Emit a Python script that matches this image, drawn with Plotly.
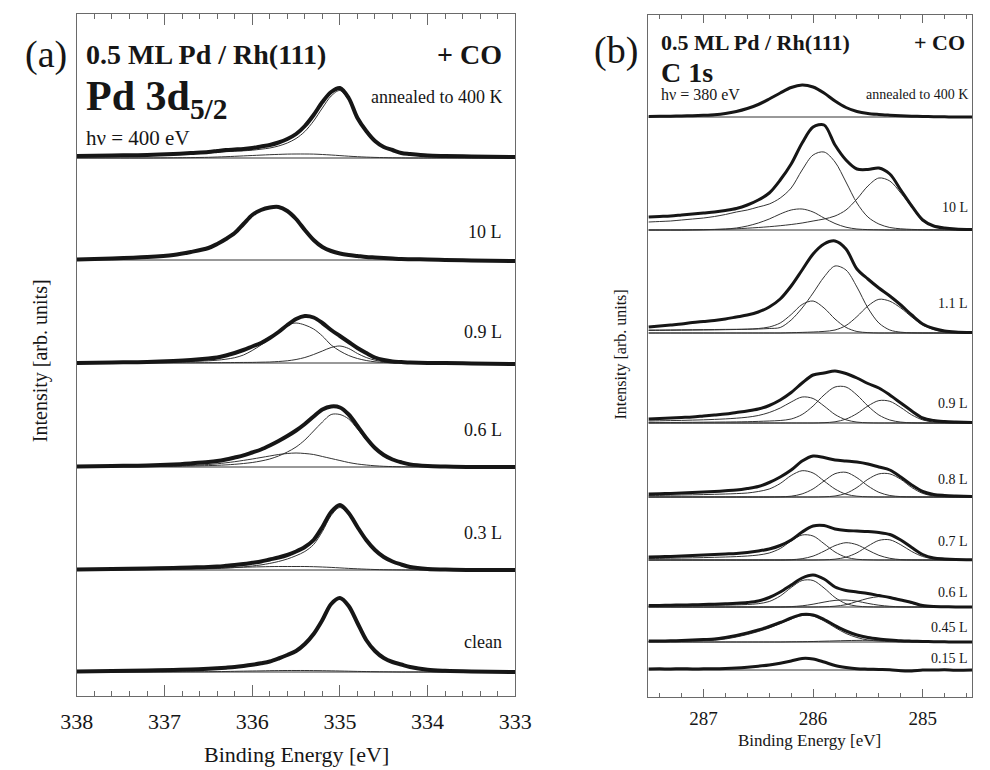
import plotly.graph_objects as go

# ---------------- Panel (a): Pd 3d5/2 ----------------
E_A = [338.0, 337.6, 337.2, 336.9, 336.7, 336.5, 336.4, 336.3, 336.2, 336.1,
       336.0, 335.9, 335.8, 335.7, 335.6, 335.5, 335.4, 335.3, 335.2, 335.1,
       335.0, 334.9, 334.8, 334.7, 334.6, 334.5, 334.4, 334.3, 334.2, 334.0,
       333.8, 333.5, 333.0]
A_LABELS = ["annealed to 400 K", "10 L", "0.9 L", "0.6 L", "0.3 L", "clean"]

A_ANN_DATA = [2, 2.5, 3, 4, 5, 6, 7, 8, 8.5, 9, 10, 11.5, 13, 15.5, 19, 24, 32, 43, 56, 66,
              70, 60, 40, 27, 17, 11, 8, 5, 4, 2.5, 2, 1.5, 1]
A_ANN_MAIN = [2, 2.5, 3, 3.8, 4.6, 5.3, 5.8, 6.3, 6.8, 7.2, 7.8, 8.8, 10, 12, 15, 19.5, 26.5, 37, 50, 62,
              67.5, 58, 38.7, 26, 16.4, 10.6, 7.8, 4.9, 4, 2.5, 2, 1.5, 1]
A_ANN_MINOR = [0, 0, 0, 0.2, 0.4, 0.7, 1, 1.3, 1.7, 2.1, 2.5, 2.9, 3.3, 3.6, 3.9, 4, 4, 3.9, 3.5, 3,
               2.4, 1.8, 1.3, 0.9, 0.6, 0.4, 0.2, 0.1, 0, 0, 0, 0, 0]

A_10L_DATA = [0.5, 1.5, 3, 5, 8, 12, 16, 21, 27, 36, 45, 50, 52.5, 53, 49, 41, 30, 20, 13, 9,
              6.5, 5, 4, 3, 2.5, 2, 1.5, 1, 0.8, 0.5, 0, -0.5, -1]

A_09L_DATA = [0, 0.5, 1, 2, 3, 4.5, 5.5, 7.5, 10, 13, 16.5, 20, 25, 31, 38, 44, 47, 45.5, 40, 33,
              27, 21, 15, 10, 5.5, 3, 1.5, 1, 0.5, 0, 0, -0.5, -1]
A_09L_MAIN = [0.3, 0.5, 0.8, 1.2, 1.6, 2.2, 2.8, 3.8, 5.3, 8, 12.5, 18, 24, 32, 38, 40, 38, 34, 27, 18,
              12, 7.5, 4.5, 2.5, 1.2, 0.5, 0.2, 0, 0, 0, 0, 0, 0]
A_09L_MINOR = [0, 0, 0.1, 0.2, 0.25, 0.3, 0.35, 0.4, 0.5, 0.55, 0.6, 0.8, 1, 1.5, 2.2, 3.5, 5.5, 8.5, 12, 15.5,
               17, 14.5, 9.5, 5.5, 2.8, 1.2, 0.5, 0.2, 0, 0, 0, 0, 0]

A_06L_DATA = [0.5, 1, 1.5, 2.5, 3.6, 4.9, 5.9, 7.5, 9.5, 11.6, 14.5, 17.5, 21.5, 26, 31, 36.5, 43, 50.5, 57.5, 60.5,
              59.5, 52.5, 41, 29, 19, 12, 7.5, 4.7, 2.6, 1, 0.5, 0, 0]
A_06L_MAIN = [0.2, 0.3, 0.5, 0.7, 1, 1.4, 1.7, 2.1, 2.7, 3.5, 4.5, 6, 8, 11, 15, 20, 27, 36, 45, 52.5,
              52.5, 48, 38, 27, 18, 11.5, 7, 4.5, 2.5, 1, 0.3, 0, 0]
A_06L_MINOR = [0, 0.2, 0.5, 1, 1.6, 2.5, 3.2, 4.2, 5.3, 6.6, 8, 9.5, 11, 12.5, 13.5, 14, 13.5, 12.5, 10.5, 8.5,
               6.5, 4.5, 3, 2, 1.2, 0.7, 0.4, 0.2, 0.1, 0, 0, 0, 0]

A_03L_DATA = [0.5, 1, 1.5, 2, 2.5, 3, 3.5, 4.2, 5, 6, 7.2, 8.5, 10.5, 12.5, 15, 18.5, 23, 30, 43, 58,
              65, 57, 43, 30, 20, 13, 8.5, 5.5, 3, 1, 0.5, 0, 0]
A_03L_MAIN = [0.4, 0.7, 0.9, 1.1, 1.2, 1.3, 1.5, 1.9, 2.4, 3.1, 4, 5.1, 6.6, 8.5, 11, 14.3, 18.5, 25.5, 38.5, 54.5,
              62.5, 55, 41.5, 29, 19.5, 12.7, 8.3, 5.4, 3, 1, 0.5, 0, 0]
A_03L_MINOR = [0, 0.2, 0.5, 0.8, 1.2, 1.6, 1.9, 2.2, 2.5, 2.8, 3, 3.2, 3.4, 3.5, 3.5, 3.5, 3.5, 3.3, 3, 2.6,
               2.1, 1.6, 1.2, 0.8, 0.5, 0.3, 0.2, 0.1, 0, 0, 0, 0, 0]

A_CLEAN_DATA = [0.5, 1, 1.5, 2, 2.5, 3.2, 3.7, 4.3, 5, 6, 7.2, 8.7, 10.5, 13.5, 17, 21, 28, 38, 52, 68,
                74, 66, 49, 32, 21, 14, 10, 7.5, 5, 2.2, 1.2, 0.5, 0]
A_CLEAN_MINOR = [0, 0, 0, 0.1, 0.2, 0.3, 0.4, 0.5, 0.7, 0.85, 1, 1.1, 1.3, 1.4, 1.5, 1.5, 1.5, 1.4, 1.3, 1.15,
                 1, 0.8, 0.6, 0.45, 0.3, 0.2, 0.1, 0, 0, 0, 0, 0, 0]

# ---------------- Panel (b): C 1s ----------------
E_B = [287.5, 287.4, 287.3, 287.2, 287.1, 287.0, 286.9, 286.8, 286.7, 286.6,
       286.5, 286.4, 286.3, 286.2, 286.1, 286.0, 285.9, 285.8, 285.7, 285.6,
       285.5, 285.4, 285.3, 285.2, 285.1, 285.0, 284.9, 284.8, 284.7, 284.55]
B_LABELS = ["annealed to 400 K", "10 L", "1.1 L", "0.9 L", "0.8 L", "0.7 L", "0.6 L", "0.45 L", "0.15 L"]

B_ANN_DATA = [0.5, 0.7, 0.8, 1, 1.3, 1.7, 2.3, 3.5, 5.5, 8.5, 12.5, 18, 24, 29.5, 32, 30, 24, 16, 9.5, 5.5,
              3.5, 2.5, 1.8, 1.2, 0.8, 0.5, 0.3, 0.2, 0, 0]

B_10L_DATA = [13, 13.5, 14, 15, 16, 17, 18, 19.5, 21.5, 25, 30, 37, 50, 66, 87, 103, 105, 85, 70, 61,
              60.5, 62, 56, 40, 24, 10, 4, 2, 1, 0.5]
B_10L_C1 = [8, 8.5, 9, 10, 11, 12, 13.5, 15.5, 18, 20, 23, 26, 32, 42, 60, 75, 78, 68, 48, 27,
            13, 6, 2.5, 1.2, 0.6, 0.3, 0.2, 0.1, 0, 0]
B_10L_C2 = [0, 0, 0, 0, 0.1, 0.3, 0.6, 1, 2, 4, 7, 11, 16, 20, 21, 18, 12, 6.5, 2.8, 1,
            0.4, 0.2, 0, 0, 0, 0, 0, 0, 0, 0]
B_10L_C3 = [0, 0, 0, 0, 0.2, 0.3, 0.5, 0.8, 1.2, 1.8, 2.5, 3.3, 4.3, 5.5, 7, 9, 11, 14, 20, 31,
            44, 52, 49, 37, 23, 9, 4, 1.5, 0.5, 0.1]

B_11L_DATA = [6, 7, 8, 9, 10.5, 11.5, 12.5, 14, 16, 18, 21, 26, 34, 47, 63, 79, 89, 92, 84, 64,
              54, 45, 37, 28, 18, 9, 4.5, 2, 1, 0.5]
B_11L_C1 = [3, 3, 3.1, 3.2, 3.3, 3.4, 3.5, 3.6, 3.7, 3.8, 4, 4.5, 5.5, 13, 25, 40, 56, 67, 63, 46,
            25, 10, 3, 0.8, 0.2, 0, 0, 0, 0, 0]
B_11L_C2 = [2.5, 2.6, 2.7, 2.8, 2.9, 3, 3.1, 3.3, 3.5, 3.8, 4.5, 6, 10, 18.5, 28.5, 32, 25, 14, 5.6, 1.5,
            0.4, 0, 0, 0, 0, 0, 0, 0, 0, 0]
B_11L_C3 = [0, 0, 0, 0, 0, 0, 0, 0, 0, 0, 0, 0, 0, 0.3, 0.6, 1, 1.6, 3, 7.5, 16.4,
            27, 33.7, 31.8, 25, 16, 8, 3.5, 1.2, 0.4, 0]

B_09L_DATA = [4, 4.5, 5, 5.5, 6, 7, 8, 9, 10.5, 12, 14, 17.5, 23, 30.5, 40, 48, 50, 52, 49.5, 45,
              39.5, 35, 28, 20, 12, 5, 2.5, 1.5, 1, 0.5]
B_09L_C1 = [2, 2.2, 2.4, 2.6, 2.9, 3.2, 3.6, 4.1, 4.8, 5.8, 7.5, 10.5, 15, 21, 26, 24.5, 17, 8.5, 3.2, 0.9,
            0.2, 0, 0, 0, 0, 0, 0, 0, 0, 0]
B_09L_C2 = [0.3, 0.4, 0.5, 0.6, 0.7, 0.8, 0.9, 1, 1.1, 1.3, 1.6, 2, 2.5, 4, 8.5, 17, 28, 36, 36, 28,
            17, 8, 3, 0.9, 0.2, 0, 0, 0, 0, 0]
B_09L_C3 = [0, 0, 0, 0, 0, 0, 0, 0, 0, 0, 0, 0, 0, 0, 0, 0, 0.3, 1.2, 3.9, 9.4,
            17, 22.4, 21.7, 15.5, 8.1, 3.1, 0.9, 0.2, 0, 0]

B_08L_DATA = [3, 3.3, 3.6, 4, 4.5, 5, 5.5, 6.2, 7, 8.5, 10.5, 14.5, 20, 27, 36, 41, 39.5, 37, 36, 35,
              33, 30, 27, 20, 12, 5.5, 2.5, 1.5, 1, 0.5]
B_08L_C1 = [1.5, 1.6, 1.8, 2, 2.2, 2.4, 2.7, 3, 3.4, 4, 5.5, 8, 13.5, 21.5, 26.3, 24, 16, 8, 2.8, 0.8,
            0.2, 0, 0, 0, 0, 0, 0, 0, 0, 0]
B_08L_C2 = [0, 0, 0, 0, 0, 0, 0, 0, 0, 0, 0, 0, 0.2, 0.8, 3.1, 8.1, 16, 23.3, 24.7, 19.3,
            11.1, 4.7, 1.5, 0.4, 0.1, 0, 0, 0, 0, 0]
B_08L_C3 = [0, 0, 0, 0, 0, 0, 0, 0, 0, 0, 0, 0, 0, 0, 0, 0, 0.2, 1, 3.6, 9.5,
            17.7, 23.1, 23.1, 17.7, 9.5, 3.6, 1, 0.2, 0, 0]

B_07L_DATA = [3, 3.3, 3.6, 4, 4.5, 5, 5.5, 6, 6.5, 7.5, 9, 11, 14.5, 20, 28, 34, 34.5, 31, 29.5, 29,
              28.5, 27.5, 25.5, 20, 12.5, 5.5, 2, 1, 0.5, 0.3]
B_07L_C1 = [1.5, 1.6, 1.8, 2, 2.2, 2.4, 2.7, 3, 3.4, 4, 5, 7, 11.5, 19, 25, 24, 16.3, 8, 2.8, 0.7,
            0.2, 0, 0, 0, 0, 0, 0, 0, 0, 0]
B_07L_C2 = [0, 0, 0, 0, 0, 0, 0, 0, 0, 0, 0, 0, 0, 0.3, 1.3, 3.9, 8.8, 14.4, 17.3, 15.3,
            9.9, 4.7, 1.7, 0.4, 0.1, 0, 0, 0, 0, 0]
B_07L_C3 = [0, 0, 0, 0, 0, 0, 0, 0, 0, 0, 0, 0, 0, 0, 0, 0, 0.2, 0.8, 2.8, 7.2,
            13.9, 19.6, 20.2, 15.2, 8.5, 3.5, 1, 0.2, 0, 0]

B_06L_DATA = [1.5, 1.6, 1.8, 2, 2.2, 2.5, 2.8, 3.2, 3.7, 4.5, 6, 9.5, 15, 22, 29, 32, 28, 20, 16.5, 15,
              13.5, 11.5, 9.5, 7, 4.5, 1.5, 0.5, 0.3, 0, 0]
B_06L_C1 = [1, 1.1, 1.2, 1.3, 1.4, 1.5, 1.7, 1.9, 2.1, 2.5, 3.3, 5.5, 11, 19.5, 26.5, 26.5, 19, 9.5, 3.3, 0.9,
            0.2, 0, 0, 0, 0, 0, 0, 0, 0, 0]
B_06L_C2 = [0, 0, 0, 0, 0, 0, 0, 0, 0, 0, 0, 0, 0, 0.4, 1.2, 2.8, 4.9, 6.6, 7, 5.8,
            3.6, 1.8, 0.7, 0.2, 0, 0, 0, 0, 0, 0]
B_06L_C3 = [0, 0, 0, 0, 0, 0, 0, 0, 0, 0, 0, 0, 0, 0, 0, 0, 0.2, 0.8, 2.3, 5.5,
            8.6, 10.4, 9.9, 7.5, 3.7, 1.3, 0.3, 0, 0, 0]

B_045L_DATA = [1, 1, 1.2, 1.5, 2, 2.5, 3, 4.5, 6.5, 9, 12, 15.5, 19.5, 24, 27.5, 27, 22.5, 16.5, 11, 7,
               4.5, 3, 2, 1.2, 0.8, 0.5, 0.3, 0.2, 0, 0]
B_045L_C1 = [0.5, 0.5, 0.6, 0.8, 1, 1.3, 1.8, 3, 5, 7.5, 10.5, 14, 18.5, 23, 26.5, 26, 21, 14.5, 8.5, 4.5,
             2, 1, 0.4, 0.1, 0, 0, 0, 0, 0, 0]
B_045L_C2 = [0, 0, 0, 0, 0, 0, 0, 0, 0, 0, 0, 0, 0, 0.2, 0.3, 0.5, 0.8, 1.1, 1.4, 1.6,
             1.7, 1.6, 1.3, 0.9, 0.5, 0.2, 0.1, 0, 0, 0]

B_015L_DATA = [1, 1.2, 1, 1.3, 1, 1.2, 1.2, 1.5, 2, 2.8, 3.8, 5, 6.8, 9, 11.5, 11, 8, 4.5, 2.5, 1.2,
               0.8, 0.5, 0.2, -0.8, -1, 0, 0, 0.2, -0.2, 0]

# ---------------- layout constants (pixel geometry) ----------------
W, H = 990, 770
A_OFFSETS = [538, 436, 333, 229, 126, 24]
B_OFFSETS = [580, 467, 364, 274, 200, 137, 90, 55, 27]

A_SPECTRA = [
    (A_ANN_DATA, [A_ANN_MAIN, A_ANN_MINOR]),
    (A_10L_DATA, []),
    (A_09L_DATA, [A_09L_MAIN, A_09L_MINOR]),
    (A_06L_DATA, [A_06L_MAIN, A_06L_MINOR]),
    (A_03L_DATA, [A_03L_MAIN, A_03L_MINOR]),
    (A_CLEAN_DATA, [A_CLEAN_MINOR]),
]
B_SPECTRA = [
    (B_ANN_DATA, []),
    (B_10L_DATA, [B_10L_C1, B_10L_C2, B_10L_C3]),
    (B_11L_DATA, [B_11L_C1, B_11L_C2, B_11L_C3]),
    (B_09L_DATA, [B_09L_C1, B_09L_C2, B_09L_C3]),
    (B_08L_DATA, [B_08L_C1, B_08L_C2, B_08L_C3]),
    (B_07L_DATA, [B_07L_C1, B_07L_C2, B_07L_C3]),
    (B_06L_DATA, [B_06L_C1, B_06L_C2, B_06L_C3]),
    (B_045L_DATA, [B_045L_C1, B_045L_C2]),
    (B_015L_DATA, []),
]

FONT = "'Liberation Serif', 'Times New Roman', Times, serif"
INK = "#161616"
FRAME = "#6a6a6a"

fig = go.Figure()


def add_panel(E, spectra, offsets, xa, ya, data_width):
    for (data, comps), off in zip(spectra, offsets):
        fig.add_trace(go.Scatter(x=[E[0], E[-1]], y=[off, off], mode="lines",
                                 line=dict(color="#333", width=1), xaxis=xa, yaxis=ya,
                                 hoverinfo="skip", showlegend=False))
        for c in comps:
            fig.add_trace(go.Scatter(x=E, y=[off + v for v in c], mode="lines",
                                     line=dict(color="#333", width=1, shape="spline", smoothing=0.9),
                                     xaxis=xa, yaxis=ya, showlegend=False))
        fig.add_trace(go.Scatter(x=E, y=[off + v for v in data], mode="lines",
                                 line=dict(color=INK, width=data_width, shape="spline", smoothing=0.9),
                                 xaxis=xa, yaxis=ya, showlegend=False))


add_panel(E_A, A_SPECTRA, A_OFFSETS, "x", "y", 4)
add_panel(E_B, B_SPECTRA, B_OFFSETS, "x2", "y2", 3)


def px(x, y):
    return x / W, 1 - y / H


ann = []


def text(x, y, s, size, xanchor="left", yanchor="middle", angle=0):
    xx, yy = px(x, y)
    ann.append(dict(x=xx, y=yy, xref="paper", yref="paper", text=s, showarrow=False,
                    xanchor=xanchor, yanchor=yanchor, textangle=angle, borderpad=0,
                    font=dict(family=FONT, size=size, color=INK)))


# panel (a) headers
text(30, 55, "(a)", 38, xanchor="center")
text(70, 55, "<b>0.5 ML Pd / Rh(111)</b>", 28)
text(503, 55, "<b>+ CO</b>", 28, xanchor="right")
text(70, 99, "<b>Pd 3d<sub>5/2</sub></b>", 42)
text(70, 138, "hν = 400 eV", 21)
A_LABEL_Y = [97, 232, 332, 430, 533, 642]
for lab, yy in zip(A_LABELS, A_LABEL_Y):
    text(503, yy, lab, 18, xanchor="right")
text(289, 754, "Binding Energy [eV]", 22, xanchor="center")
text(24, 361, "Intensity [arb. units]", 20, xanchor="center", angle=-90)

# panel (b) headers
text(620, 50, "(b)", 38, xanchor="center")
text(666, 43, "<b>0.5 ML Pd / Rh(111)</b>", 22)
text(983, 43, "<b>+ CO</b>", 22, xanchor="right")
text(666, 73, "<b>C 1s</b>", 28)
text(666, 95, "hν = 380 eV", 16)
B_LABEL_Y = [95, 207, 303, 403, 479, 541, 592, 627, 658]
for lab, yy in zip(B_LABELS, B_LABEL_Y):
    text(986, yy, lab, 14, xanchor="right")
text(821, 740, "Binding Energy [eV]", 17, xanchor="center")
text(625, 355, "Intensity [arb. units]", 16, xanchor="center", angle=-90)

common_x = dict(showline=True, linecolor=FRAME, linewidth=1, mirror="allticks", ticks="inside",
                tickcolor=FRAME, tickwidth=1, showgrid=False, zeroline=False, dtick=1)
common_y = dict(showline=True, linecolor=FRAME, linewidth=1, mirror=True, ticks="",
                showticklabels=False, showgrid=False, zeroline=False, range=[0, 682])

fig.update_layout(
    width=W, height=H, margin=dict(l=0, r=0, t=0, b=0),
    paper_bgcolor="white", plot_bgcolor="white", showlegend=False,
    font=dict(family=FONT, color=INK),
    annotations=ann,
    xaxis=dict(common_x, domain=[62 / W, 516 / W], range=[338, 333], tick0=333, ticklen=11,
               tickfont=dict(family=FONT, color=INK, size=22), ticklabelstandoff=6,
               minor=dict(dtick=0.2, ticklen=5, ticks="inside", tickcolor=FRAME, showgrid=False),
               anchor="y"),
    yaxis=dict(common_y, domain=[1 - 696 / H, 1 - 14 / H], anchor="x"),
    xaxis2=dict(common_x, domain=[653 / W, 989 / W], range=[287.51, 284.55], tick0=285, ticklen=8,
                tickfont=dict(family=FONT, color=INK, size=19), ticklabelstandoff=4,
                minor=dict(dtick=0.2, ticklen=4, ticks="inside", tickcolor=FRAME, showgrid=False),
                anchor="y2"),
    yaxis2=dict(common_y, domain=[1 - 697 / H, 1 - 15 / H], anchor="x2"),
)

fig.write_html("out.html")
